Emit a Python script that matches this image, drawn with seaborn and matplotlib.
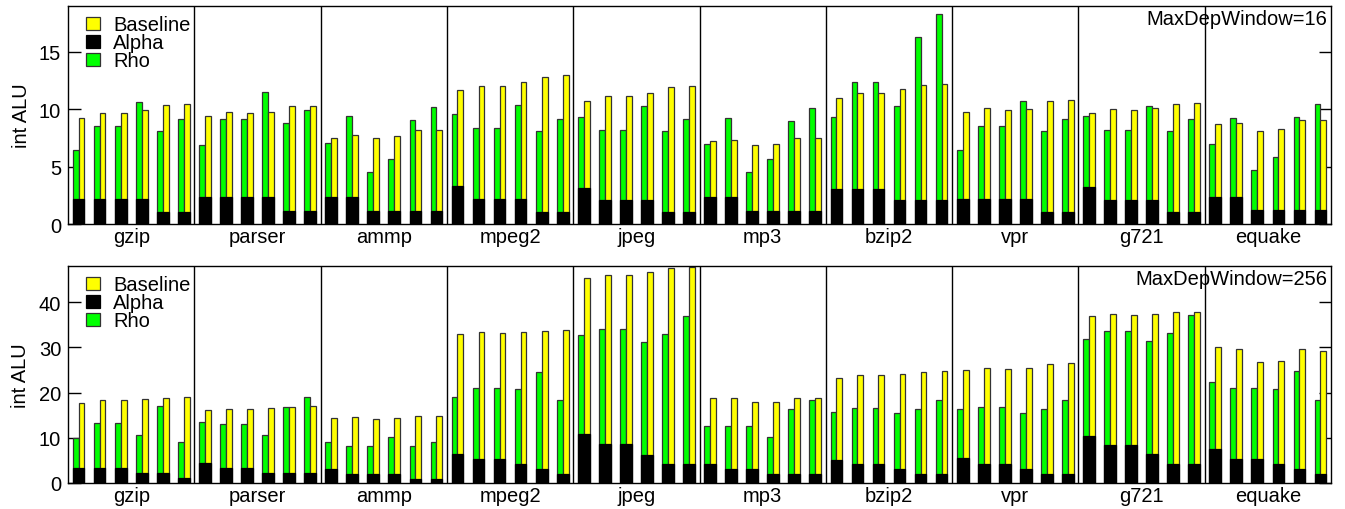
import numpy as np
import pandas as pd
import matplotlib
matplotlib.use("Agg")
import matplotlib.pyplot as plt
from matplotlib.patches import Patch
import seaborn as sns

benchmarks = ["gzip", "parser", "ammp", "mpeg2", "jpeg", "mp3", "bzip2", "vpr", "g721", "equake"]
series_names = ["Baseline", "Alpha", "Rho"]

# MaxDepWindow=16 (6 configurations per benchmark)
rho_16 = [
    [6.43, 8.54, 8.54, 10.66, 8.11, 9.12],
    [6.89, 9.15, 9.15, 11.47, 8.80, 9.90],
    [7.07, 9.38, 4.55, 5.68, 9.04, 10.17],
    [9.56, 8.34, 8.34, 10.40, 8.14, 9.15],
    [9.33, 8.22, 8.22, 10.25, 8.11, 9.12],
    [6.95, 9.24, 4.52, 5.65, 8.95, 10.08],
    [9.30, 12.37, 12.37, 10.25, 16.30, 18.33],
    [6.43, 8.54, 8.54, 10.69, 8.11, 9.12],
    [9.44, 8.20, 8.20, 10.25, 8.11, 9.12],
    [6.95, 9.27, 4.69, 5.85, 9.30, 10.43],
]
baseline_16 = [
    [9.27, 9.64, 9.64, 9.93, 10.37, 10.48],
    [9.44, 9.73, 9.64, 9.79, 10.25, 10.31],
    [7.50, 7.76, 7.50, 7.67, 8.20, 8.22],
    [11.67, 12.05, 11.99, 12.34, 12.83, 12.95],
    [10.72, 11.18, 11.18, 11.44, 11.90, 11.99],
    [7.24, 7.30, 6.86, 6.95, 7.50, 7.47],
    [10.95, 11.44, 11.44, 11.73, 12.08, 12.16],
    [9.73, 10.11, 9.90, 9.99, 10.69, 10.83],
    [9.70, 9.99, 9.90, 10.14, 10.43, 10.51],
    [8.75, 8.83, 8.14, 8.28, 9.09, 9.04],
]
alpha_16 = [
    [2.20, 2.20, 2.20, 2.20, 1.01, 1.01],
    [2.35, 2.35, 2.35, 2.35, 1.16, 1.16],
    [2.37, 2.37, 1.16, 1.16, 1.16, 1.16],
    [3.27, 2.14, 2.14, 2.14, 1.04, 1.04],
    [3.16, 2.06, 2.06, 2.06, 1.01, 1.01],
    [2.37, 2.37, 1.16, 1.16, 1.16, 1.16],
    [3.07, 3.07, 3.07, 2.06, 2.06, 2.06],
    [2.17, 2.17, 2.17, 2.17, 1.04, 1.04],
    [3.21, 2.06, 2.06, 2.06, 1.04, 1.04],
    [2.37, 2.37, 1.22, 1.22, 1.22, 1.22],
]

# MaxDepWindow=256
rho_256 = [
    [9.98, 13.28, 13.28, 10.64, 17.03, 9.03],
    [13.43, 12.99, 12.99, 10.57, 16.88, 18.94],
    [9.10, 8.22, 8.22, 10.28, 8.15, 9.10],
    [18.94, 20.92, 20.92, 20.70, 24.66, 18.42],
    [32.73, 34.13, 34.13, 31.27, 32.88, 36.99],
    [12.70, 12.55, 12.55, 10.28, 16.37, 18.42],
    [15.63, 16.59, 16.59, 15.41, 16.37, 18.35],
    [16.37, 16.81, 16.81, 15.41, 16.37, 18.42],
    [31.78, 33.69, 33.69, 31.34, 33.10, 37.06],
    [22.31, 20.92, 20.92, 20.70, 24.73, 18.42],
]
baseline_256 = [
    [17.76, 18.28, 18.28, 18.50, 18.79, 18.94],
    [16.15, 16.44, 16.37, 16.59, 16.88, 16.95],
    [14.31, 14.53, 14.09, 14.31, 14.90, 14.90],
    [33.03, 33.32, 33.10, 33.39, 33.69, 33.76],
    [45.43, 46.09, 46.09, 46.61, 47.49, 47.78],
    [18.72, 18.72, 17.83, 17.98, 18.86, 18.72],
    [23.19, 23.78, 23.78, 24.07, 24.66, 24.73],
    [25.03, 25.54, 25.25, 25.39, 26.28, 26.50],
    [36.99, 37.28, 37.14, 37.36, 37.72, 37.80],
    [30.17, 29.72, 26.86, 27.08, 29.58, 29.28],
]
alpha_256 = [
    [3.38, 3.38, 3.38, 2.20, 2.20, 1.03],
    [4.48, 3.38, 3.38, 2.20, 2.20, 2.20],
    [3.16, 2.06, 2.06, 2.06, 0.95, 0.95],
    [6.31, 5.21, 5.21, 4.11, 3.08, 2.06],
    [10.86, 8.59, 8.66, 6.24, 4.11, 4.11],
    [4.26, 3.08, 3.08, 2.06, 2.06, 2.06],
    [5.14, 4.11, 4.11, 3.16, 2.06, 2.06],
    [5.58, 4.26, 4.26, 3.16, 2.06, 2.06],
    [10.50, 8.37, 8.37, 6.31, 4.18, 4.18],
    [7.41, 5.21, 5.21, 4.18, 3.16, 2.06],
]

panel_titles = ["MaxDepWindow=16", "MaxDepWindow=256"]
ylims = [19.0, 48.0]
yticks_list = [[0, 5, 10, 15], [0, 10, 20, 30, 40]]

GREEN = "#00ff00"
YELLOW = "#ffff00"
BLACK = "#000000"
FS = 14.5

sns.set_theme(style="white")
plt.rcParams["font.family"] = ["Liberation Sans", "DejaVu Sans"]
plt.rcParams["text.color"] = "black"
plt.rcParams["axes.labelcolor"] = "black"
plt.rcParams["xtick.color"] = "black"
plt.rcParams["ytick.color"] = "black"

fig = plt.figure(figsize=(13.45, 5.10), dpi=100)
ax_top = fig.add_axes([0.0506, 0.5588, 0.9390, 0.4275])
ax_bot = fig.add_axes([0.0506, 0.0510, 0.9390, 0.4255])

n_cfg = 6
n_slots = len(benchmarks) * n_cfg

def draw_panel(ax, rho, base, alpha, title, ymax, yticks):
    rows = []
    for g, b in enumerate(benchmarks):
        for c in range(n_cfg):
            slot = g * n_cfg + c
            rows.append({"slot": slot, "series": "Rho", "value": rho[g][c]})
            rows.append({"slot": slot, "series": "Baseline", "value": base[g][c]})
    df = pd.DataFrame(rows)
    adf = pd.DataFrame({
        "slot": [g * n_cfg + c for g in range(len(benchmarks)) for c in range(n_cfg)],
        "value": [alpha[g][c] for g in range(len(benchmarks)) for c in range(n_cfg)],
    })
    order = list(range(n_slots))
    sns.barplot(data=df, x="slot", y="value", hue="series", order=order,
                hue_order=["Rho", "Baseline"],
                palette={"Rho": GREEN, "Baseline": YELLOW},
                width=0.556, gap=0, dodge=True, errorbar=None,
                edgecolor="#333333", linewidth=0.9, saturation=1,
                legend=False, ax=ax)
    sns.barplot(data=adf, x="slot", y="value", order=order, color=BLACK,
                width=0.556, errorbar=None, edgecolor=BLACK, linewidth=0.9,
                saturation=1, ax=ax)
    ax.set_xlim(-0.5, n_slots - 0.5)
    ax.set_ylim(0, ymax)
    for g in range(1, len(benchmarks)):
        ax.axvline(g * n_cfg - 0.5, color="black", linewidth=1.0, zorder=0.5)
    ax.set_xticks([g * n_cfg + 2.5 for g in range(len(benchmarks))])
    ax.set_xticklabels(benchmarks, fontsize=FS)
    ax.set_yticks(yticks)
    ax.set_yticklabels([str(t) for t in yticks], fontsize=FS)
    ax.tick_params(axis="x", length=0, pad=2)
    ax.tick_params(axis="y", direction="in", length=9, width=1.0,
                   left=True, right=True, labelright=False, pad=5, color="black")
    ax.set_xlabel("")
    ax.set_ylabel("int ALU", fontsize=FS, labelpad=6)
    for s in ax.spines.values():
        s.set_visible(True)
        s.set_color("black")
        s.set_linewidth(1.0)
    ax.text(0.997, 0.985, title, transform=ax.transAxes, ha="right", va="top",
            fontsize=FS)
    handles = [Patch(facecolor=YELLOW, edgecolor="#333333", linewidth=0.9),
               Patch(facecolor=BLACK, edgecolor=BLACK, linewidth=0.9),
               Patch(facecolor=GREEN, edgecolor="#333333", linewidth=0.9)]
    ax.legend(handles, series_names, loc="upper left", bbox_to_anchor=(0.005, 1.012),
              frameon=False, fontsize=FS, handlelength=0.68, handleheight=0.62,
              labelspacing=-0.05, handletextpad=0.65, borderaxespad=0.3,
              borderpad=0.3)

draw_panel(ax_top, rho_16, baseline_16, alpha_16, panel_titles[0], ylims[0], yticks_list[0])
draw_panel(ax_bot, rho_256, baseline_256, alpha_256, panel_titles[1], ylims[1], yticks_list[1])

fig.savefig("out.png", dpi=100)
